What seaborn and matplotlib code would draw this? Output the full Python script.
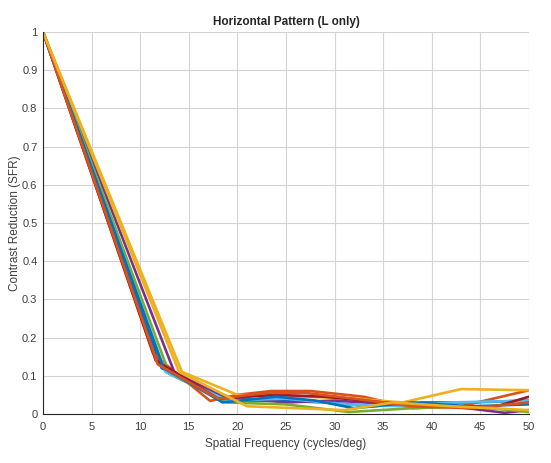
import numpy as np
import pandas as pd
import matplotlib
matplotlib.use("Agg")
import matplotlib.pyplot as plt
import seaborn as sns

# === DATA ===
line_x = [
    [0, 12.2, 19, 24, 29, 34, 39, 44, 50],
    [0, 11.3, 12.6, 17.2, 20, 23.5, 27.5, 33, 38, 43, 50],
    [0, 14.3, 20, 27, 32, 37, 43, 50],
    [0, 13.5, 18.5, 25, 30, 36, 42, 47.5, 50],
    [0, 13.0, 19, 25, 31.5, 38, 44, 50],
    [0, 12.6, 19, 25, 31, 37, 42, 50],
    [0, 11.6, 18, 24, 29, 35, 41, 46, 50],
    [0, 12.4, 18.5, 24, 28, 32, 38, 44, 50],
    [0, 11.8, 18, 23, 27, 32, 38, 44, 50],
    [0, 14.0, 21, 26, 31, 36, 42, 50],
]
line_y = [
    [1, 0.12, 0.035, 0.035, 0.03, 0.02, 0.03, 0.03, 0.035],
    [1, 0.16, 0.13, 0.034, 0.05, 0.06, 0.06, 0.045, 0.015, 0.02, 0.062],
    [1, 0.11, 0.05, 0.045, 0.04, 0.03, 0.065, 0.062],
    [1, 0.11, 0.045, 0.03, 0.035, 0.025, 0.02, 0.003, 0.01],
    [1, 0.105, 0.03, 0.025, 0.005, 0.015, 0.02, 0.005],
    [1, 0.11, 0.035, 0.04, 0.025, 0.02, 0.03, 0.035],
    [1, 0.14, 0.04, 0.05, 0.045, 0.03, 0.02, 0.015, 0.045],
    [1, 0.12, 0.03, 0.045, 0.035, 0.015, 0.03, 0.02, 0.025],
    [1, 0.13, 0.04, 0.055, 0.055, 0.04, 0.02, 0.015, 0.03],
    [1, 0.11, 0.02, 0.015, 0.01, 0.03, 0.02, 0.01],
]
x_ticks = [0, 5, 10, 15, 20, 25, 30, 35, 40, 45, 50]
y_ticks = [0, 0.1, 0.2, 0.3, 0.4, 0.5, 0.6, 0.7, 0.8, 0.9, 1]
y_tick_labels = ['0', '0.1', '0.2', '0.3', '0.4', '0.5', '0.6', '0.7', '0.8', '0.9', '1']

# MATLAB default colour order
matlab_colors = ['#0072BD', '#D95319', '#EDB120', '#7E2F8E', '#77AC30', '#4DBEEE', '#A2142F']

rows = []
for i, (xs, ys) in enumerate(zip(line_x, line_y)):
    for x, y in zip(xs, ys):
        rows.append({'line': i, 'freq': x, 'sfr': y})
df = pd.DataFrame(rows)

sns.set_style("white")
plt.rcParams['font.family'] = ['Liberation Sans', 'DejaVu Sans']

fig = plt.figure(figsize=(5.51, 4.63), dpi=100)
ax = fig.add_axes([0.078, 0.106, 0.882, 0.825])

palette = [matlab_colors[i % len(matlab_colors)] for i in range(len(line_x))]
sns.lineplot(data=df, x='freq', y='sfr', hue='line', palette=palette,
             sort=False, estimator=None, legend=False, linewidth=1.9, ax=ax)

ax.set_xlim(0, 50)
ax.set_ylim(0, 1)
ax.set_xticks(x_ticks)
ax.set_xticklabels([str(t) for t in x_ticks])
ax.set_yticks(y_ticks)
ax.set_yticklabels(y_tick_labels)
ax.grid(True, color='#d4d4d4', linewidth=0.8)
ax.set_axisbelow(True)

for s in ['top', 'right']:
    ax.spines[s].set_visible(False)
for s in ['left', 'bottom']:
    ax.spines[s].set_color('#262626')
    ax.spines[s].set_linewidth(0.8)

ax.tick_params(direction='in', length=3, labelsize=8, colors='#262626', labelcolor='#404040')
ax.tick_params(axis='x', pad=6)
ax.tick_params(axis='y', pad=4)
ax.set_xlabel('Spatial Frequency (cycles/deg)', fontsize=8.5, color='#404040', labelpad=4)
ax.set_ylabel('Contrast Reduction (SFR)', fontsize=8.5, color='#404040')
ax.yaxis.set_label_coords(-0.045, 0.5)
ax.set_title('Horizontal Pattern (L only)', fontsize=8.5, fontweight='bold', pad=5)

fig.savefig('out.png', dpi=100)
